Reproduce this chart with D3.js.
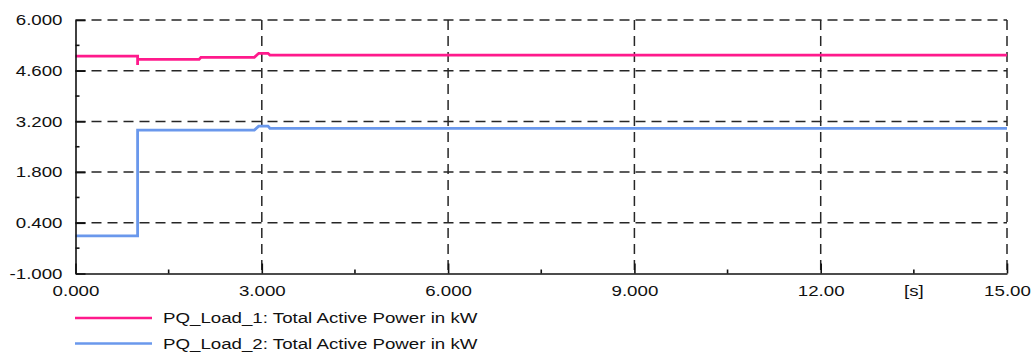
<!DOCTYPE html>
<html>
<head>
<meta charset="utf-8">
<script src="https://cdn.jsdelivr.net/npm/d3@7"></script>
<style>
  html, body { margin: 0; padding: 0; background: #fff; }
  svg { display: block; }
  text { font-family: "Liberation Sans", Arial, sans-serif; fill: #111; }
</style>
</head>
<body>
<svg id="chart" width="1033" height="354"></svg>
<script>
// Simulation time axis [s]
const xTicks = [0, 3, 6, 9, 12, 15];
const xTickLabels = ["0.000", "3.000", "6.000", "9.000", "12.00", "15.00"];
const xMinorTicks = [1.5, 4.5, 7.5, 10.5, 13.5];
const xUnitLabel = "[s]";
const xUnitAt = 13.5;

// Power axis [kW]
const yTicks = [-1.0, 0.4, 1.8, 3.2, 4.6, 6.0];
const yTickLabels = ["-1.000", "0.400", "1.800", "3.200", "4.600", "6.000"];
const yMinorTicks = [-0.3, 1.1, 2.5, 3.9, 5.3];

// PQ_Load_1 total active power (time in s, power in kW)
const load1Time  = [0, 1.0, 1.0, 1.0, 1.99, 2.02, 2.88, 2.95, 3.10, 3.13, 15];
const load1Power = [5.00, 5.00, 4.76, 4.91, 4.91, 4.97, 4.97, 5.08, 5.08, 5.03, 5.03];

// PQ_Load_2 total active power
const load2Time  = [0, 1.0, 1.0, 2.88, 2.95, 3.10, 3.13, 15];
const load2Power = [0.04, 0.04, 2.96, 2.96, 3.07, 3.07, 3.01, 3.01];

const seriesNames = [
  "PQ_Load_1: Total Active Power in kW",
  "PQ_Load_2: Total Active Power in kW"
];
const seriesColors = ["#ff1a8c", "#6a98ec"];

const svg = d3.select("#chart");
const plotLeft = 75.5, plotRight = 1007, plotTop = 20, plotBottom = 273.5;
const stretch = 1.29; // horizontal widening of the label glyphs
const fontSize = 14.5;

const x = d3.scaleLinear().domain([0, 15]).range([plotLeft, plotRight]);
const y = d3.scaleLinear().domain([-1, 6]).range([plotBottom, plotTop]);

// Dashed grid
const grid = svg.append("g").attr("stroke", "#262626").attr("stroke-width", 1.5)
  .attr("stroke-dasharray", "10,6").attr("fill", "none");
grid.selectAll("line.h").data(yTicks.filter(v => v > -1)).join("line")
  .attr("class", "h")
  .attr("x1", plotLeft).attr("x2", plotRight)
  .attr("y1", d => y(d)).attr("y2", d => y(d));
grid.selectAll("line.v").data(xTicks.filter(v => v > 0)).join("line")
  .attr("class", "v")
  .attr("x1", d => x(d)).attr("x2", d => x(d))
  .attr("y1", plotTop).attr("y2", plotBottom);

// Series
const line = d3.line().x(d => x(d[0])).y(d => y(d[1]));
const series = [
  d3.zip(load1Time, load1Power),
  d3.zip(load2Time, load2Power)
];
svg.append("g").selectAll("path").data(series).join("path")
  .attr("d", line)
  .attr("fill", "none")
  .attr("stroke", (d, i) => seriesColors[i])
  .attr("stroke-width", 2.8)
  .attr("stroke-linejoin", "miter");

// Axes with inward ticks
const xAxis = svg.append("g").attr("transform", `translate(0,${plotBottom})`)
  .call(d3.axisBottom(x).tickValues(xTicks).tickSizeInner(-10).tickSizeOuter(0)
    .tickPadding(11).tickFormat((d, i) => xTickLabels[i]));
const yAxis = svg.append("g").attr("transform", `translate(${plotLeft},0)`)
  .call(d3.axisLeft(y).tickValues(yTicks).tickSizeInner(-10).tickSizeOuter(0)
    .tickPadding(0).tickFormat((d, i) => yTickLabels[i]));

[xAxis, yAxis].forEach(g => {
  g.select(".domain").attr("stroke", "#111").attr("stroke-width", 1.6);
  g.selectAll(".tick line").attr("stroke", "#111").attr("stroke-width", 1.6);
  g.selectAll(".tick text").attr("font-size", fontSize).attr("fill", "#111")
    .style("font-family", "'Liberation Sans', Arial, sans-serif");
});
xAxis.selectAll(".tick text").attr("dy", "0.71em").attr("y", 12.5)
  .attr("transform", `scale(${stretch},1)`);
yAxis.selectAll(".tick text").attr("x", -13 / stretch)
  .attr("transform", `scale(${stretch},1)`);

// Minor ticks
const minor = svg.append("g").attr("stroke", "#111").attr("stroke-width", 1.6);
minor.selectAll("line.mx").data(xMinorTicks).join("line").attr("class", "mx")
  .attr("x1", d => x(d)).attr("x2", d => x(d))
  .attr("y1", plotBottom).attr("y2", plotBottom - 4);
minor.selectAll("line.my").data(yMinorTicks).join("line").attr("class", "my")
  .attr("x1", plotLeft).attr("x2", plotLeft + 4)
  .attr("y1", d => y(d)).attr("y2", d => y(d));

// Unit label on the time axis
svg.append("text")
  .attr("transform", `translate(${x(xUnitAt)},${plotBottom + 12.5}) scale(${stretch},1)`)
  .attr("text-anchor", "middle").attr("dy", "0.71em")
  .attr("font-size", fontSize).text(xUnitLabel);

// Legend
const legend = svg.append("g");
const legendRows = legend.selectAll("g").data(seriesNames).join("g")
  .attr("transform", (d, i) => `translate(75,${318 + i * 25.5})`);
legendRows.append("line")
  .attr("x1", 0).attr("x2", 77)
  .attr("stroke", (d, i) => seriesColors[i]).attr("stroke-width", 2.4);
legendRows.append("text")
  .attr("transform", `translate(88,0) scale(${stretch},1)`)
  .attr("dy", "0.35em").attr("font-size", fontSize)
  .text(d => d);
</script>
</body>
</html>
